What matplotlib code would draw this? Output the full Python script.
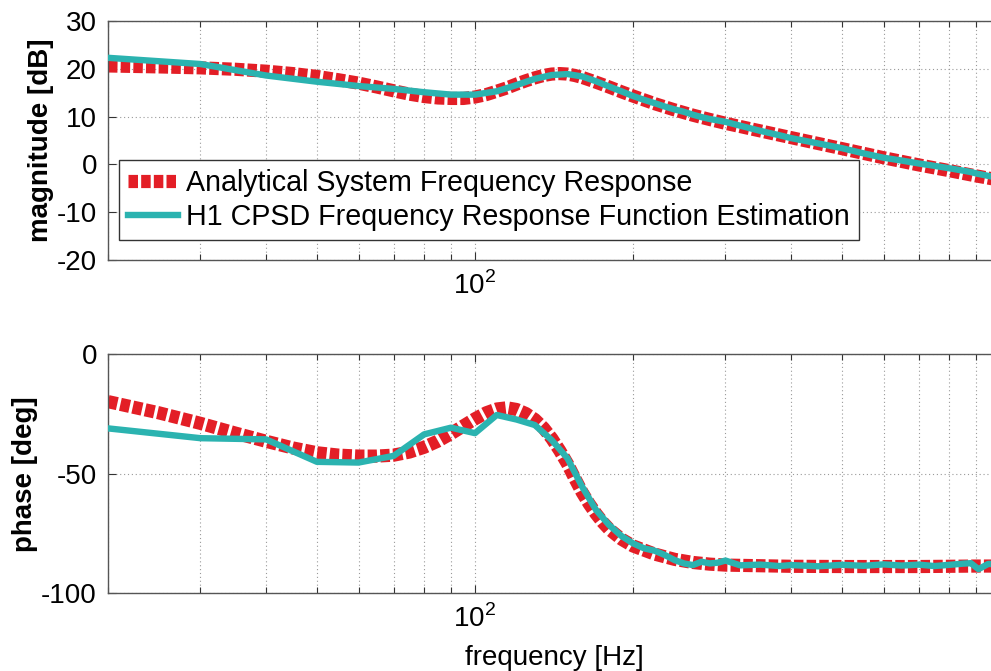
import numpy as np
import matplotlib
matplotlib.use("Agg")
import matplotlib.pyplot as plt
from matplotlib.ticker import LogLocator, NullFormatter, FixedLocator, FixedFormatter

plt.rcParams['font.family'] = ['Liberation Sans', 'DejaVu Sans']
plt.rcParams['font.size'] = 20
plt.rcParams['axes.unicode_minus'] = False
plt.rcParams['mathtext.fontset'] = 'custom'
plt.rcParams['mathtext.rm'] = 'Liberation Sans'

# analytical (model) response, Hz / dB / deg
f_model = [20, 25, 30, 35, 40, 45, 50, 55, 60, 65, 70, 75, 80, 85, 90, 95,
           100, 105, 110, 115, 120, 125, 130, 135, 140, 145, 150, 155, 160,
           165, 170, 175, 180, 190, 200, 220, 240, 260, 280, 300, 400, 500,
           600, 700, 800, 900, 1000]
mag_model = [20.6, 20.4, 20.2, 19.9, 19.5, 19.0, 18.4, 17.7, 17.0, 16.2, 15.4,
             14.7, 14.2, 13.9, 13.8, 13.8, 14.1, 14.6, 15.3, 16.0, 16.8, 17.5,
             18.1, 18.6, 18.9, 19.0, 18.9, 18.6, 18.2, 17.7, 17.2, 16.7, 16.2,
             15.2, 14.3, 12.7, 11.4, 10.3, 9.4, 8.6, 5.6, 3.3, 1.4, -0.1, -1.3,
             -2.4, -3.3]
phase_model = [-19.8, -24.5, -28.9, -33.0, -36.4, -39.2, -41.2, -42.2, -42.6,
               -42.6, -42.2, -40.9, -38.9, -36.3, -33.2, -30.0, -27.0, -24.5,
               -22.9, -22.4, -23.1, -24.8, -27.3, -30.8, -35.2, -40.3, -45.8,
               -52.0, -57.8, -62.6, -66.7, -70.2, -73.1, -77.3, -80.2, -83.6,
               -85.8, -87.1, -87.8, -88.2, -88.7, -88.8, -88.8, -88.8, -88.7,
               -88.6, -88.6]

# H1 estimate from cross/auto power spectral densities
f_h1 = [20, 30, 40, 50, 60, 70, 80, 90, 100, 110, 120, 130, 140, 150, 160, 170,
        180, 190, 200, 210, 220, 230, 240, 250, 260, 270, 280, 290, 300, 320,
        350, 380, 400, 450, 500, 550, 600, 650, 700, 750, 800, 850, 880, 910,
        950, 1000]
mag_h1 = [22.3, 21.0, 18.6, 17.3, 16.4, 15.8, 15.1, 14.6, 14.6, 15.3, 16.6,
          17.9, 18.7, 18.9, 18.4, 17.4, 16.3, 15.3, 14.3, 13.5, 12.8, 12.1,
          11.5, 11.0, 10.4, 9.9, 9.5, 9.2, 8.9, 8.1, 7.0, 6.1, 5.5, 4.4, 3.4,
          2.3, 1.4, 0.8, 0.2, -0.3, -0.8, -1.3, -1.6, -2.0, -2.4, -2.9]
phase_h1 = [-31.0, -35.1, -35.6, -45.0, -45.3, -42.5, -33.5, -30.7, -33.0,
            -25.4, -27.3, -29.6, -35.9, -43.5, -55.4, -65.1, -71.4, -76.0,
            -79.1, -81.2, -82.2, -84.0, -86.1, -87.5, -88.2, -86.8, -87.5,
            -87.2, -86.3, -88.3, -88.0, -88.6, -88.2, -88.7, -88.1, -88.5,
            -87.9, -88.4, -88.0, -88.6, -88.1, -87.6, -87.4, -89.9, -87.7,
            -87.9]

red = '#e31e26'
teal = '#2bb3b0'
grid_kw = dict(color='#9a9a9a', linestyle=(0, (1, 2.5)), linewidth=0.8)
red_kw = dict(color=red, lw=9.5, dashes=(0.72, 0.24), dash_capstyle='butt',
              zorder=2)

fig = plt.figure(figsize=(9.91, 6.71), dpi=100)
ax1 = fig.add_axes([0.109, 0.6125, 0.9001, 0.3562])
ax2 = fig.add_axes([0.109, 0.1158, 0.9001, 0.3562])

for ax in (ax1, ax2):
    ax.set_xscale('log')
    ax.set_xlim(20, 1000)
    ax.xaxis.set_major_locator(FixedLocator([100]))
    ax.xaxis.set_major_formatter(FixedFormatter([r'$10^2$']))
    ax.xaxis.set_minor_locator(LogLocator(base=10, subs=np.arange(2, 10)))
    ax.xaxis.set_minor_formatter(NullFormatter())
    ax.grid(True, which='both', axis='x', **grid_kw)
    ax.grid(True, which='major', axis='y', **grid_kw)
    ax.tick_params(which='both', direction='in', top=True, right=True,
                   color='#333333', width=0.8)
    ax.tick_params(which='major', length=6, pad=8)
    ax.tick_params(which='minor', length=4)
    for s in ax.spines.values():
        s.set_color('#555555')
        s.set_linewidth(1.0)
    ax.set_axisbelow(True)

ax1.plot(f_model, mag_model, label='Analytical System Frequency Response',
         **red_kw)
ax1.plot(f_h1, mag_h1, color=teal, lw=4.6, zorder=3,
         label='H1 CPSD Frequency Response Function Estimation')
ax1.set_ylim(-20, 30)
ax1.set_yticks([-20, -10, 0, 10, 20, 30])
ax1.set_ylabel('magnitude [dB]', fontweight='bold')
ax1.yaxis.set_label_coords(-0.061, 0.5)

leg = ax1.legend(loc='upper left', bbox_to_anchor=(0.0123, 0.418),
                 borderaxespad=0, fancybox=False, framealpha=1,
                 edgecolor='#333333', handlelength=1.75, handletextpad=0.3,
                 borderpad=0.3, labelspacing=0.22, fontsize=20.6)
leg.get_frame().set_linewidth(1.0)

ax2.plot(f_model, phase_model, **red_kw)
ax2.plot(f_h1, phase_h1, color=teal, lw=4.6, zorder=3)
ax2.set_ylim(-100, 0)
ax2.set_yticks([-100, -50, 0])
ax2.set_ylabel('phase [deg]', fontweight='bold')
ax2.yaxis.set_label_coords(-0.079, 0.5)
ax2.set_xlabel('frequency [Hz]')
ax2.xaxis.set_label_coords(0.5, -0.215)

fig.savefig('out.png', dpi=100)
